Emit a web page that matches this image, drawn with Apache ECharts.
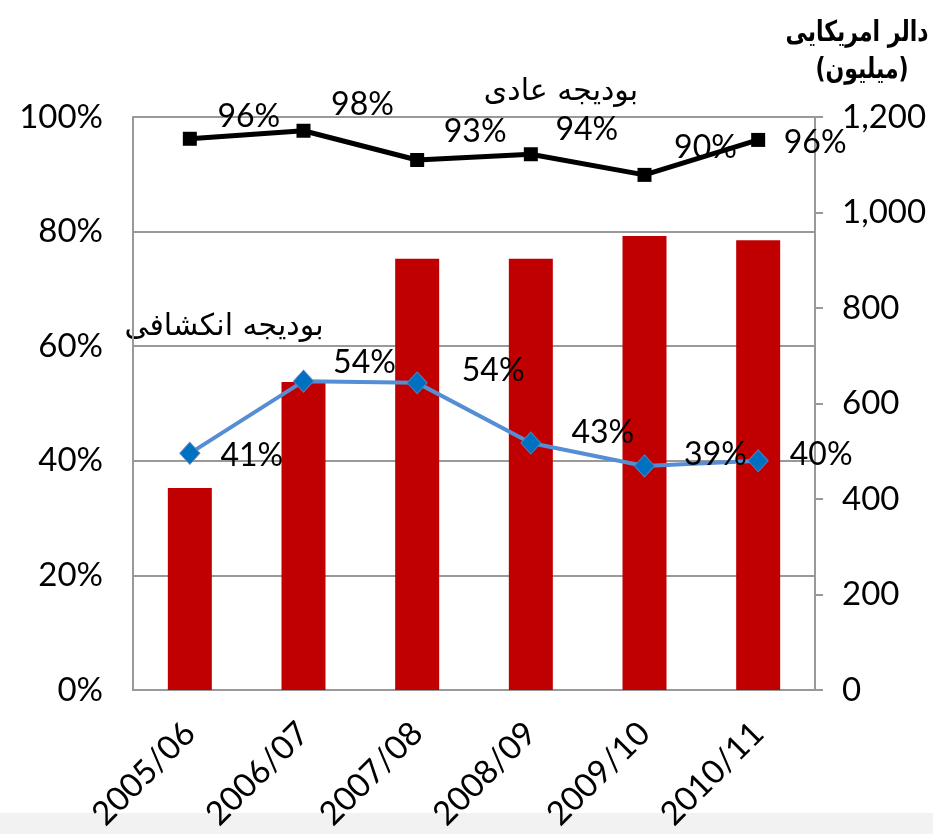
<!DOCTYPE html>
<html>
<head>
<meta charset="utf-8">
<script src="https://cdn.jsdelivr.net/npm/echarts@6/dist/echarts.min.js"></script>
<style>
  html, body { margin: 0; padding: 0; background: #fff; }
  #chart { width: 933px; height: 834px; }
</style>
</head>
<body>
<div id="chart"></div>
<script>
// سال‌های مالی
var years = ['2005/06', '2006/07', '2007/08', '2008/09', '2009/10', '2010/11'];
// میلیون دالر (محور راست)
var totalBudget = [423, 645, 903, 903, 951, 942];
// بودیجه عادی (٪ مصرف)
var ordinaryPct = [96.2, 97.6, 92.5, 93.5, 89.9, 96];
// بودیجه انکشافی (٪ مصرف)
var devPct = [41.3, 53.9, 53.6, 43.1, 39.1, 40];
var leftTicks = [0, 20, 40, 60, 80, 100];
var rightTicks = [0, 200, 400, 600, 800, 1000, 1200];

// label offsets, just placement
var ordinaryOffsets = [[59, -22], [59, -26], [58, -28], [56, -25], [61, -27], [57, 3]];
var devOffsets = [[62, 2], [61, -18], [76, -12], [72, -10], [71, -11], [63, -6]];

var FONT = 'Lato';

var chart = echarts.init(document.getElementById('chart'));

function arText(txt, x, y, font, sy) {
    return {
        type: 'text', x: x, y: y, scaleY: sy || 1,
        style: {
            text: txt, font: font, fill: '#000',
            textAlign: 'center', textVerticalAlign: 'middle'
        }
    };
}

chart.setOption({
    backgroundColor: '#fff',
    animation: false,
    grid: { left: 133, right: 118, top: 117, bottom: 144 },
    graphic: [
        {
            type: 'rect', z: -10,
            shape: { x: 0, y: 813, width: 933, height: 21 },
            style: { fill: '#f2f2f2' }
        },
        arText('دالر امریکایی', 857, 34, 'bold 22px "DejaVu Sans"', 1.3),
        arText('(میلیون)', 862, 71, 'bold 22px "DejaVu Sans"', 1.3),
        arText('بودیجه عادی', 561, 92, '30px "DejaVu Sans"'),
        arText('بودیجه انکشافی', 224, 327, '30px "DejaVu Sans"')
    ],
    xAxis: {
        type: 'category',
        data: years,
        axisTick: { show: false },
        axisLine: { lineStyle: { color: '#999', width: 2 } },
        axisLabel: {
            rotate: 45,
            margin: 38,
            fontFamily: FONT,
            fontSize: 33,
            color: '#000'
        }
    },
    yAxis: [
        {
            type: 'value',
            min: leftTicks[0],
            max: leftTicks[leftTicks.length - 1],
            interval: 20,
            axisLine: { show: true, lineStyle: { color: '#999', width: 2 } },
            axisTick: { show: false },
            splitLine: { lineStyle: { color: '#999', width: 2 } },
            axisLabel: {
                margin: 30,
                fontFamily: FONT,
                fontSize: 33,
                color: '#000',
                formatter: function (v) { return v + '%'; }
            }
        },
        {
            type: 'value',
            min: rightTicks[0],
            max: rightTicks[rightTicks.length - 1],
            interval: 200,
            position: 'right',
            axisLine: { show: true, lineStyle: { color: '#999', width: 2 } },
            axisTick: { show: true, length: 8, lineStyle: { color: '#999', width: 2 } },
            splitLine: { show: false },
            axisLabel: {
                margin: 27,
                fontFamily: FONT,
                fontSize: 33,
                color: '#000',
                formatter: function (v) { return v.toLocaleString('en-US'); }
            }
        }
    ],
    series: [
        {
            name: 'total',
            type: 'bar',
            yAxisIndex: 1,
            barWidth: 44,
            itemStyle: { color: '#c00000' },
            data: totalBudget
        },
        {
            name: 'ordinary',
            type: 'line',
            yAxisIndex: 0,
            symbol: 'rect',
            symbolSize: 14,
            lineStyle: { color: '#000', width: 5 },
            itemStyle: { color: '#000' },
            z: 4,
            data: ordinaryPct.map(function (v, i) {
                return {
                    value: v,
                    label: { show: true, position: 'inside', offset: ordinaryOffsets[i] }
                };
            }),
            label: {
                fontFamily: FONT,
                fontSize: 32,
                color: '#000',
                formatter: function (p) { return Math.round(p.value) + '%'; }
            }
        },
        {
            name: 'dev',
            type: 'line',
            yAxisIndex: 0,
            symbol: 'diamond',
            symbolSize: [20, 22],
            lineStyle: { color: '#558ed5', width: 4 },
            itemStyle: { color: '#0070c0', borderColor: '#4f81bd', borderWidth: 1 },
            z: 3,
            data: devPct.map(function (v, i) {
                return {
                    value: v,
                    label: { show: true, position: 'inside', offset: devOffsets[i] }
                };
            }),
            label: {
                fontFamily: FONT,
                fontSize: 32,
                color: '#000',
                formatter: function (p) { return Math.round(p.value) + '%'; }
            }
        }
    ]
});
</script>
</body>
</html>
